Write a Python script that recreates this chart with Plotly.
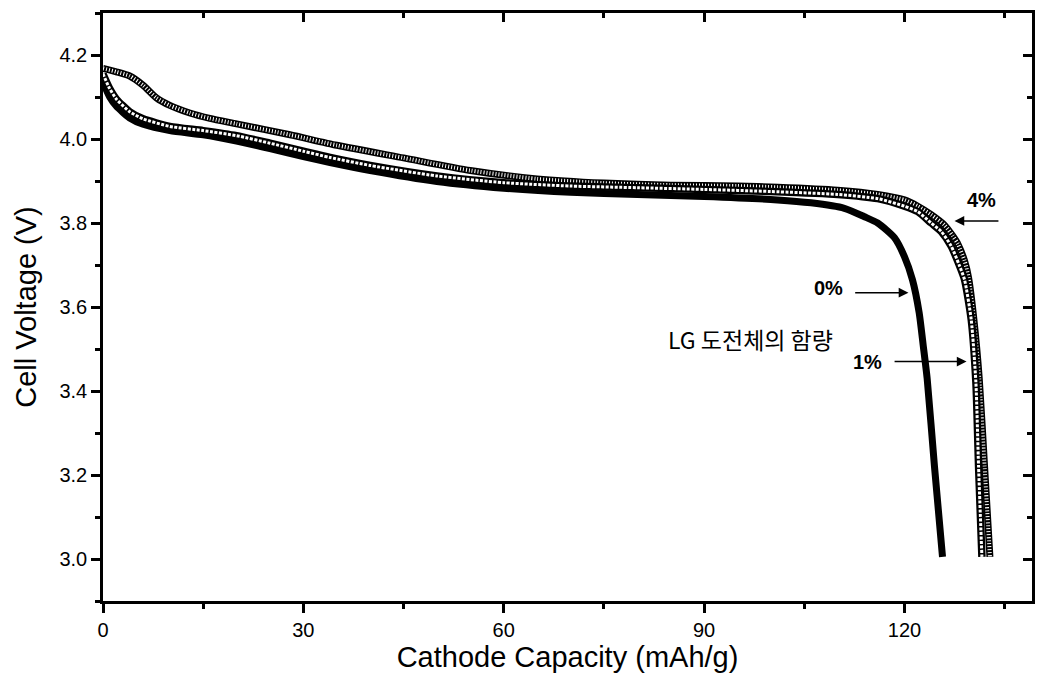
import plotly.graph_objects as go

# ---- data ----
cap_0 = [0, 1, 2, 4, 6, 10, 15, 20, 25, 30, 34, 40, 50, 60, 70, 80, 90, 101, 106, 111, 114, 116,
         118.5, 120, 121.2, 122.2, 122.8, 123.4, 124.5, 125.7]
volt_0 = [4.135, 4.10, 4.078, 4.05, 4.035, 4.02, 4.01, 3.995, 3.977, 3.958, 3.944, 3.925, 3.899, 3.883,
          3.873, 3.868, 3.863, 3.855, 3.848, 3.835, 3.815, 3.80,
          3.765, 3.72, 3.665, 3.587, 3.51, 3.43, 3.22, 3.005]

cap_1 = [0, 1, 2, 4, 6, 10, 15, 20, 25, 30, 34, 40, 50, 60, 70, 80, 90, 100, 110, 116, 120, 122,
         124, 125.5, 127, 128.2, 129, 130, 130.7, 131.1, 131.6]
volt_1 = [4.155, 4.12, 4.095, 4.065, 4.048, 4.03, 4.02, 4.008, 3.99, 3.971, 3.956, 3.937, 3.912, 3.896,
          3.888, 3.884, 3.88, 3.875, 3.868, 3.858, 3.84, 3.827,
          3.80, 3.78, 3.745, 3.70, 3.665, 3.57, 3.42, 3.22, 3.005]

cap_4 = [0, 2, 4, 6, 8, 10, 13, 16, 20, 28, 35, 45, 55, 65, 75, 85, 95, 101, 110, 116,
         120, 122, 124, 126, 127.2, 128, 129, 129.6, 130.4, 131.2, 132, 132.8]
volt_4 = [4.168, 4.16, 4.15, 4.128, 4.098, 4.08, 4.062, 4.049, 4.036, 4.01, 3.985, 3.955,
          3.925, 3.905, 3.895, 3.89, 3.888, 3.885, 3.878, 3.868,
          3.855, 3.84, 3.82, 3.795, 3.77, 3.75, 3.71, 3.67, 3.57, 3.43, 3.22, 3.005]

x_tick_vals = [0, 30, 60, 90, 120]
x_tick_text = ["0", "30", "60", "90", "120"]
y_tick_vals = [3.0, 3.2, 3.4, 3.6, 3.8, 4.0, 4.2]
y_tick_text = ["3.0", "3.2", "3.4", "3.6", "3.8", "4.0", "4.2"]

labels = ["0%", "1%", "4%"]
label_x = [108.6, 114.5, 131.6]
label_y = [3.645, 3.47, 3.855]
arrow_tail_x = [112.4, 118.3, 134.3]
arrow_tip_x = [120.6, 129.3, 127.5]
arrow_y = [3.634, 3.47, 3.805]
note_text = "LG 도전체의 함량"
note_x = 96.9
note_y = 3.523

X_RANGE = [0, 139.1]
Y_RANGE = [2.9, 4.3]

FONT = "Liberation Sans, Arial, sans-serif"

fig = go.Figure()

SM = 0.6
# 0 % : solid black band of filled circles
fig.add_trace(go.Scatter(x=cap_0, y=volt_0, mode="lines",
                         line=dict(color="black", width=7, shape="spline", smoothing=SM),
                         hoverinfo="skip", showlegend=False))
# 4 % : crosses
fig.add_trace(go.Scatter(x=cap_4, y=volt_4, mode="lines",
                         line=dict(color="black", width=7, shape="spline", smoothing=SM),
                         hoverinfo="skip", showlegend=False))
fig.add_trace(go.Scatter(x=cap_4, y=volt_4, mode="lines",
                         line=dict(color="white", width=4, dash="1px,2px", shape="spline", smoothing=SM),
                         hoverinfo="skip", showlegend=False))
# 1 % : open circles
fig.add_trace(go.Scatter(x=cap_1, y=volt_1, mode="lines",
                         line=dict(color="black", width=7.5, shape="spline", smoothing=SM),
                         hoverinfo="skip", showlegend=False))
fig.add_trace(go.Scatter(x=cap_1, y=volt_1, mode="lines",
                         line=dict(color="white", width=3, dash="3px,1.5px", shape="spline", smoothing=SM),
                         hoverinfo="skip", showlegend=False))

# dummy trace to activate mirror axes (top / right, ticks inside)
fig.add_trace(go.Scatter(x=[None], y=[None], xaxis="x2", yaxis="y2", mode="lines",
                         hoverinfo="skip", showlegend=False))

axis_common = dict(showgrid=False, zeroline=False, showline=True, linecolor="black",
                   linewidth=2.5, tickcolor="black", tickwidth=2.5)

fig.update_layout(
    width=1039, height=699,
    margin=dict(l=103, r=4, t=13, b=98),
    paper_bgcolor="white", plot_bgcolor="white",
    font=dict(family=FONT, color="black"),
    xaxis=dict(range=X_RANGE, tickvals=x_tick_vals, ticktext=x_tick_text,
               ticks="outside", ticklen=9, mirror=True,
               minor=dict(dtick=15, tick0=0, ticks="outside", ticklen=5, tickwidth=2.5, tickcolor="black"),
               tickfont=dict(size=20, family=FONT),
               title=dict(text="Cathode Capacity (mAh/g)", font=dict(size=29, family=FONT), standoff=7),
               **axis_common),
    yaxis=dict(range=Y_RANGE, tickvals=y_tick_vals, ticktext=y_tick_text,
               ticks="outside", ticklen=9, mirror=True,
               minor=dict(dtick=0.1, tick0=3.0, ticks="outside", ticklen=5, tickwidth=2.5, tickcolor="black"),
               tickfont=dict(size=20, family=FONT),
               title=dict(text="Cell Voltage (V)", font=dict(size=29, family=FONT), standoff=15),
               **axis_common),
    xaxis2=dict(range=X_RANGE, overlaying="x", side="top", anchor="y2",
                tickvals=x_tick_vals, showticklabels=False, ticks="inside", ticklen=9,
                minor=dict(dtick=15, tick0=0, ticks="inside", ticklen=5, tickwidth=2.5, tickcolor="black"),
                **axis_common),
    yaxis2=dict(range=Y_RANGE, overlaying="y", side="right", anchor="x2",
                tickvals=y_tick_vals, showticklabels=False, ticks="inside", ticklen=9,
                minor=dict(dtick=0.1, tick0=3.0, ticks="inside", ticklen=5, tickwidth=2.5, tickcolor="black"),
                **axis_common),
)

for lab, lx, ly, tx, hx, ay in zip(labels, label_x, label_y, arrow_tail_x, arrow_tip_x, arrow_y):
    fig.add_annotation(x=lx, y=ly, text="<b>" + lab + "</b>", showarrow=False,
                       font=dict(size=20, family=FONT, color="black"))
    fig.add_annotation(x=hx, y=ay, ax=tx, ay=ay, axref="x", ayref="y", xref="x", yref="y",
                       text="", showarrow=True, arrowhead=2, arrowsize=1.3, arrowwidth=1.5,
                       arrowcolor="black", standoff=0, startstandoff=0)

fig.add_annotation(x=note_x, y=note_y, text=note_text, showarrow=False,
                   font=dict(size=23, family="Noto Sans CJK KR", color="black"))

fig.write_html("out.html")
